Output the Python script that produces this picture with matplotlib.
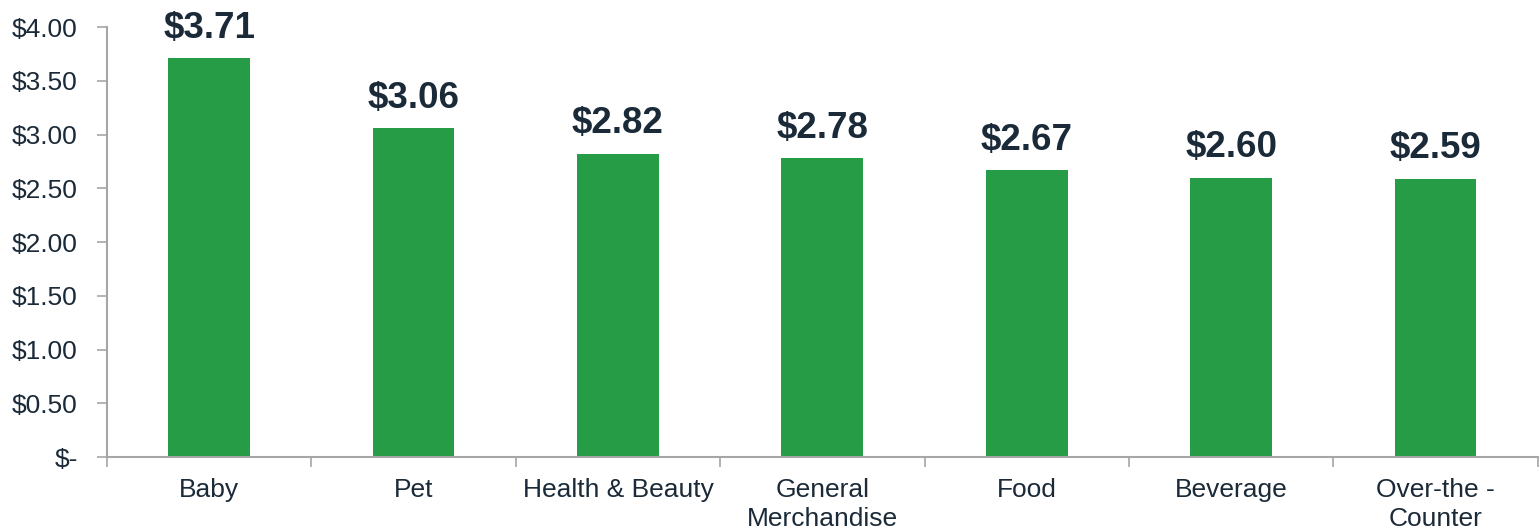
import matplotlib.pyplot as plt
import numpy as np
from matplotlib.ticker import FixedLocator

# Data
categories = ['Baby', 'Pet', 'Health & Beauty', 'General\nMerchandise',
              'Food', 'Beverage', 'Over-the -\nCounter']
values = [3.71, 3.06, 2.82, 2.78, 2.67, 2.60, 2.59]
y_ticks = [0, 0.5, 1.0, 1.5, 2.0, 2.5, 3.0, 3.5, 4.0]

bar_color = '#279C46'
text_color = '#1B2A38'
axis_color = '#A6A6A6'

plt.rcParams['font.family'] = ['Liberation Sans', 'DejaVu Sans']

fig = plt.figure(figsize=(15.4, 5.3), dpi=100)
ax = fig.add_axes([0.0695, 0.1377, 0.929, 0.8113])

x = np.arange(len(categories))
bars = ax.bar(x, values, width=0.4, color=bar_color)

# value labels above the bars
for xi, v in zip(x, values):
    ax.annotate(f'${v:.2f}', (xi, v), xytext=(0, 9), textcoords='offset points',
                ha='center', va='bottom', fontsize=26.5, fontweight='bold',
                color=text_color)

ax.set_xlim(-0.5, len(categories) - 0.5)
ax.set_ylim(0, 4.0)

ax.set_yticks(y_ticks)
ax.set_yticklabels(['$-' if t == 0 else f'${t:.2f}' for t in y_ticks])
ax.tick_params(axis='y', direction='out', length=7, width=1.2, color=axis_color,
               labelsize=19, labelcolor=text_color, pad=14)

ax.set_xticks(x)
ax.set_xticklabels(categories)
ax.tick_params(axis='x', which='major', length=0, labelsize=19,
               labelcolor=text_color, pad=15)
ax.xaxis.set_minor_locator(FixedLocator(np.arange(-0.5, len(categories), 1.0)))
ax.tick_params(axis='x', which='minor', direction='out', length=7, width=1.2,
               color=axis_color)
for lbl in ax.get_xticklabels():
    lbl.set_linespacing(1.25)

for side in ['top', 'right']:
    ax.spines[side].set_visible(False)
for side in ['left', 'bottom']:
    ax.spines[side].set_color(axis_color)
    ax.spines[side].set_linewidth(1.5)

fig.savefig('out.png', dpi=100)
